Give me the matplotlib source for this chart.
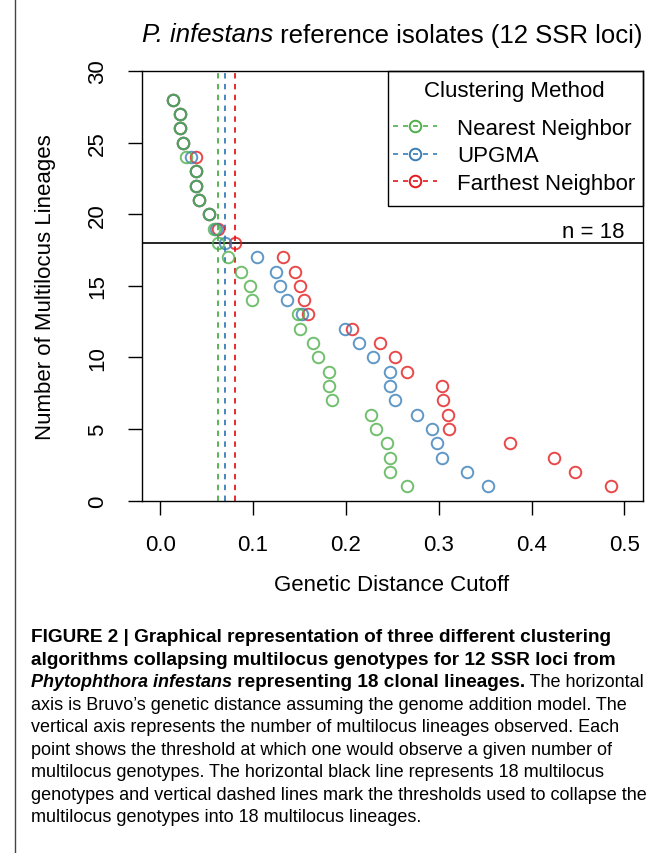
import matplotlib
matplotlib.use("Agg")
import matplotlib.pyplot as plt
from matplotlib.lines import Line2D
from matplotlib.patches import Rectangle

# number of multilocus lineages observed at each cutoff
n_mll = list(range(28, 0, -1))

# genetic distance cutoff for each clustering method
nearest = [0.014, 0.021, 0.021, 0.024, 0.028, 0.038, 0.038, 0.042, 0.052, 0.058,
           0.062, 0.073, 0.087, 0.097, 0.099, 0.148, 0.150, 0.165, 0.170, 0.182,
           0.182, 0.185, 0.227, 0.232, 0.244, 0.248, 0.248, 0.266]
upgma = [0.014, 0.021, 0.021, 0.024, 0.033, 0.038, 0.038, 0.042, 0.052, 0.060,
         0.070, 0.104, 0.125, 0.129, 0.137, 0.153, 0.199, 0.214, 0.229, 0.247,
         0.247, 0.253, 0.277, 0.293, 0.298, 0.304, 0.330, 0.353]
farthest = [0.014, 0.021, 0.021, 0.024, 0.038, 0.038, 0.038, 0.042, 0.052, 0.062,
            0.081, 0.132, 0.145, 0.151, 0.155, 0.159, 0.206, 0.237, 0.253, 0.266,
            0.303, 0.305, 0.310, 0.311, 0.377, 0.424, 0.447, 0.485]

methods = ["Nearest Neighbor", "UPGMA", "Farthest Neighbor"]
colors = ["#4DAF4A", "#377EB8", "#E41A1C"]
thresholds = [0.062, 0.070, 0.081]
n_target = 18

x_ticks = [0.0, 0.1, 0.2, 0.3, 0.4, 0.5]
y_ticks = [0, 5, 10, 15, 20, 25, 30]

caption_lines = [
    [("FIGURE 2 | Graphical representation of three different clustering", "bold", "normal")],
    [("algorithms collapsing multilocus genotypes for 12 SSR loci from", "bold", "normal")],
    [("Phytophthora infestans", "bold", "italic"),
     (" representing 18 clonal lineages.", "bold", "normal"),
     (" The horizontal", "normal", "normal")],
    [("axis is Bruvo\u2019s genetic distance assuming the genome addition model. The", "normal", "normal")],
    [("vertical axis represents the number of multilocus lineages observed. Each", "normal", "normal")],
    [("point shows the threshold at which one would observe a given number of", "normal", "normal")],
    [("multilocus genotypes. The horizontal black line represents 18 multilocus", "normal", "normal")],
    [("genotypes and vertical dashed lines mark the thresholds used to collapse the", "normal", "normal")],
    [("multilocus genotypes into 18 multilocus lineages.", "normal", "normal")],
]

W, H = 668, 854
plt.rcParams["font.family"] = ["Liberation Sans", "DejaVu Sans"]
fs = 16

fig = plt.figure(figsize=(W / 100, H / 100), dpi=100)
ax = fig.add_axes([141.7 / W, 1 - 501.7 / H, (643 - 141.7) / W, (501.7 - 72) / H])

# points: farthest first so overlapping circles blend like the original
for xs, c in zip([farthest, upgma, nearest], colors[::-1]):
    ax.plot(xs, n_mll, linestyle="none", marker="o", markersize=8.3,
            markerfacecolor="none", markeredgecolor=c, markeredgewidth=1.4,
            alpha=0.8, zorder=3)

for t, c in zip(thresholds, colors):
    ax.axvline(t, color=c, linestyle=(0, (3, 3)), linewidth=1.3, zorder=2)
ax.axhline(n_target, color="black", linewidth=1.2, zorder=2)
ax.text(0.5, 18.4, "n = %d" % n_target, ha="right", va="baseline", fontsize=fs)

ax.set_xlim(-0.02, 0.52)
ax.set_ylim(0, 30)
ax.set_xticks(x_ticks)
ax.set_xticklabels(["%.1f" % v for v in x_ticks], fontsize=fs)
ax.set_yticks(y_ticks)
ax.set_yticklabels([str(v) for v in y_ticks], fontsize=fs, rotation=90, va="center")
ax.tick_params(direction="out", length=10, width=1, pad=14, color="black")
for s in ax.spines.values():
    s.set_linewidth(1.0)

# legend: content without frame, frame drawn as a plain box
leg_x0 = (388 - 141.7) / (643 - 141.7)
leg_y0 = (501.7 - 207) / (501.7 - 72)
handles = [Line2D([], [], color=c, linestyle=(0, (3, 3)), linewidth=1.2, marker="o",
                  markersize=8.3, markerfacecolor="none", markeredgewidth=1.4)
           for c in colors]
leg = ax.legend(handles, methods, title="Clustering Method", loc="upper left",
                bbox_to_anchor=(leg_x0 - 0.002, 1 - 3.5 / 429.7), borderaxespad=0,
                fontsize=fs, title_fontsize=fs, frameon=False, handlelength=2.0,
                handletextpad=0.9, labelspacing=0.3, borderpad=0.25)
leg._legend_box.sep = 12
ax.add_patch(Rectangle((leg_x0, leg_y0), 1 - leg_x0, 1 - leg_y0, transform=ax.transAxes,
                       facecolor="none", edgecolor="black", linewidth=1.0, zorder=4,
                       clip_on=False))

fig.text(392 / W, 1 - 586 / H, "Genetic Distance Cutoff", ha="center", va="center", fontsize=fs)
fig.text(46 / W, 1 - 287 / H, "Number of Multilocus Lineages", ha="center", va="center",
         rotation=90, fontsize=fs)

renderer = fig.canvas.get_renderer()


def run_width(s, family, size, weight, style):
    # measure with a sentinel character so edge spaces are counted
    t1 = fig.text(0, 0, "|" + s + "|", family=family, fontsize=size, weight=weight, style=style)
    t2 = fig.text(0, 0, "||", family=family, fontsize=size, weight=weight, style=style)
    w = t1.get_window_extent(renderer).width - t2.get_window_extent(renderer).width
    t1.remove()
    t2.remove()
    return w


def draw_runs(x, y, runs, family, sizes, center=False):
    widths = [run_width(s, family, sizes(wt, st), wt, st) for s, wt, st in runs]
    if center:
        x = x - sum(widths) / 2
    for (s, wt, st), w in zip(runs, widths):
        fig.text(x / W, 1 - y / H, s, family=family, fontsize=sizes(wt, st), weight=wt,
                 style=st, ha="left", va="baseline")
        x += w


# title with italic species name
draw_runs(392, 42.5, [("P. infestans", "normal", "italic"),
                      (" reference isolates (12 SSR loci)", "normal", "normal")],
          ["Liberation Sans", "DejaVu Sans"], lambda wt, st: 18.5, center=True)


def caption_size(wt, st):
    if wt == "bold" and st == "italic":
        return 13.0
    if wt == "bold":
        return 13.7
    return 12.95


# figure caption
cap_family = ["Liberation Sans", "DejaVu Sans"]
for i, runs in enumerate(caption_lines):
    draw_runs(31, 642.3 + 22.5 * i, runs, cap_family, caption_size)

# page border on the left
fig.add_artist(Line2D([15 / W, 15 / W], [0, 1], color="#444444", linewidth=1.0))

fig.savefig("out.png", dpi=100)
